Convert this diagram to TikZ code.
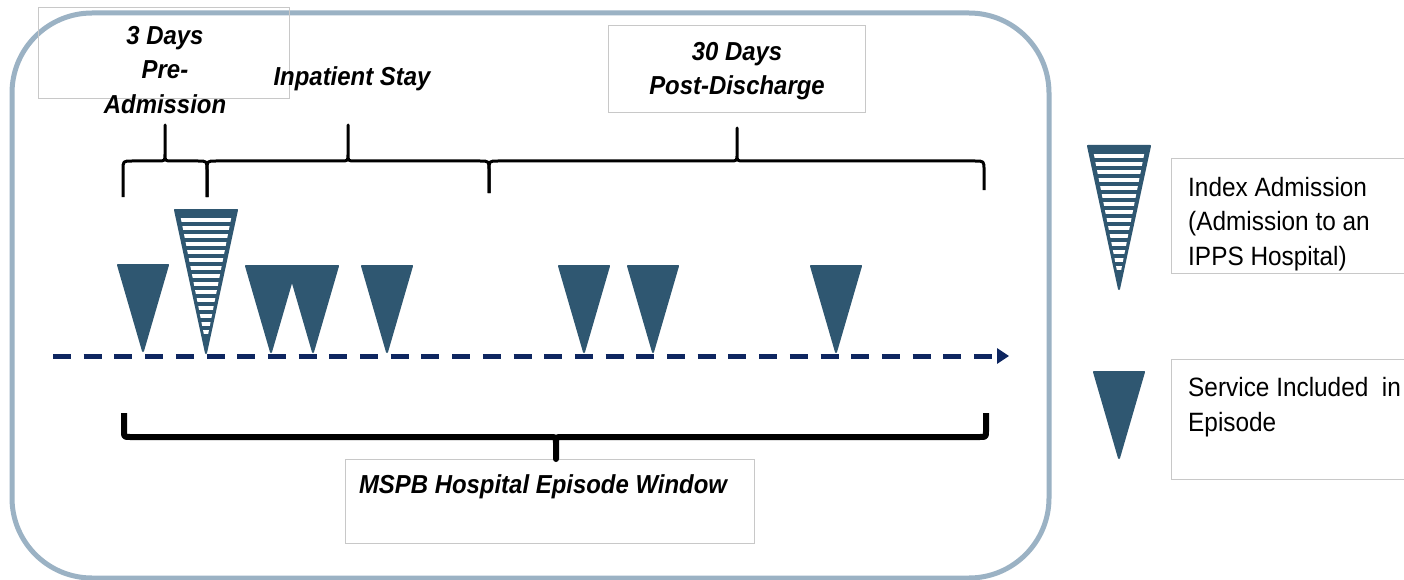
\documentclass[tikz,border=0pt]{standalone}
\usepackage{fontspec}
\newfontfamily\lab[FakeStretch=0.92]{Liberation Sans}
\usetikzlibrary{arrows.meta}
\definecolor{tri}{RGB}{47,87,113}
\definecolor{navyline}{RGB}{14,38,96}
\definecolor{framec}{RGB}{155,178,196}
\definecolor{boxgray}{RGB}{200,200,200}
\newcommand\topbrace[7]{%
  \draw[brc] (#1,#6) -- (#1,#4+9) .. controls (#1,#4) .. (#1+9,#4) -- (#2-7,#4)
    .. controls (#2,#4) .. (#2,#4-7) -- (#2,#5) -- (#2,#4-7)
    .. controls (#2,#4) .. (#2+7,#4) -- (#3-9,#4) .. controls (#3,#4) .. (#3,#4+9) -- (#3,#7);}
\begin{document}
\begin{tikzpicture}[x=1pt,y=-1pt,
  hdr/.style={font=\lab\bfseries\itshape\fontsize{26}{34.5}\selectfont, align=center, inner sep=0pt},
  leg/.style={font=\lab\fontsize{26.5}{34.5}\selectfont, align=left, anchor=west, inner sep=0pt},
  tbox/.style={draw=boxgray, line width=1pt},
  brc/.style={draw=black, line width=3pt, line join=round, line cap=butt},
  svc/.pic={\fill[tri, draw=tri, line width=2pt, line join=round] (-25,-86) -- (25,-86) -- (0,0) -- cycle;},
  idx/.pic={\fill[tri, draw=tri, line width=2pt, line join=round] (-31,-143) -- (31,-143) -- (0,0) -- cycle;
    \begin{scope}
      \clip (-26,-139) -- (26,-139) -- (0,-8) -- cycle;
      \foreach \k in {0,...,14} \fill[white] (-32,-135+\k*8) rectangle (32,-131+\k*8);
    \end{scope}}
]
\useasboundingbox (0,0) rectangle (1404,580);
\fill[white] (0,0) rectangle (1404,580);

% frame
\draw[framec, line width=5pt, rounded corners=80pt] (12,13) rectangle (1049,578);

% text boxes
\draw[tbox] (38,8) rectangle (289,99);
\draw[tbox] (608,26) rectangle (865,113);
\draw[tbox] (345,459) rectangle (754,543);
\draw[tbox] (1404,159) -- (1171,159) -- (1171,273) -- (1404,273);
\draw[tbox] (1404,359) -- (1171,359) -- (1171,479) -- (1404,479);

% headings
\node[hdr] (pre) at (165,70) {3 Days\\Pre-\\Admission};
\node[hdr] (inp) at (352,79) {Inpatient Stay};
\node[hdr] (post) at (737,71) {30 Days\\Post-Discharge};
\node[hdr] (mspb) at (543,487) {MSPB Hospital Episode Window};

% braces
\topbrace{123}{165}{207}{161}{125}{197}{197}
\topbrace{207}{348}{489}{161}{125}{197}{193}
\topbrace{489}{737}{984}{161}{128}{193}{190}
\draw[draw=black, line width=6pt, line join=round] (124,413) -- (124,431) .. controls (124,437) .. (130,437) -- (550,437)
  .. controls (556,437) .. (556,443) -- (556,459) -- (556,443) .. controls (556,437) .. (562,437)
  -- (980,437) .. controls (986,437) .. (986,431) -- (986,413);

% timeline
\coordinate (tl) at (53,356);
\coordinate (tr) at (1009,356);
\draw[navyline, line width=5pt, dash pattern=on 18pt off 12.7pt, -{Triangle[length=12pt,width=15pt]}] (tl) -- (tr);

% events
\pic at (143,351) {svc};
\pic at (206,353) {idx};
\pic at (271,352) {svc};
\pic at (313,352) {svc};
\pic at (387,352) {svc};
\pic at (584,352) {svc};
\pic at (653,352) {svc};
\pic at (836,352) {svc};

% legend
\pic at (1119,289) {idx};
\pic at (1119,458) {svc};
\node[leg] (l1) at (1188,224) {Index Admission\\(Admission to an\\IPPS Hospital)};
\node[leg] (l2) at (1188,407) {Service Included\ \ in\\Episode};
\end{tikzpicture}
\end{document}
